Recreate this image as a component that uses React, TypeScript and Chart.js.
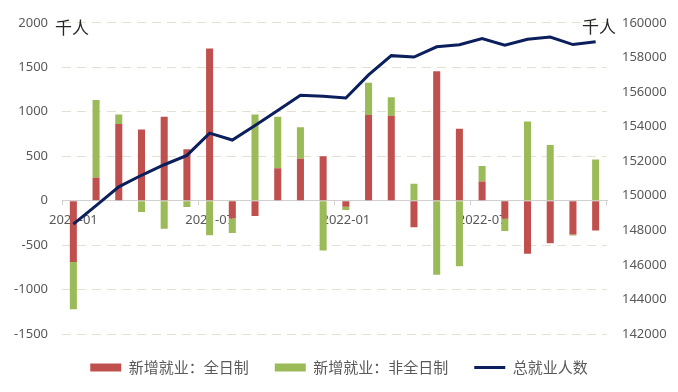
import React, { useEffect, useRef } from 'react';
import { Chart, registerables } from 'chart.js';

Chart.register(...registerables);

const months = [
  '2021-01', '2021-02', '2021-03', '2021-04', '2021-05', '2021-06',
  '2021-07', '2021-08', '2021-09', '2021-10', '2021-11', '2021-12',
  '2022-01', '2022-02', '2022-03', '2022-04', '2022-05', '2022-06',
  '2022-07', '2022-08', '2022-09', '2022-10', '2022-11', '2022-12',
];

const fullTime = [
  -690, 260, 863, 800, 944, 578, 1711, -200, -172, 363, 470, 500,
  -70, 963, 955, -298, 1455, 808, 215, -205, -598, -480, -381, -335,
];

const partTime = [
  -532, 873, 107, -128, -317, -72, -389, -165, 970, 581, 356, -561,
  -34, 363, 208, 189, -835, -737, 174, -137, 889, 626, -10, 463,
];

const totalEmployment = [
  148360, 149430, 150510, 151180, 151790, 152330, 153620, 153220, 154060, 154930, 155810, 155750,
  155650, 156990, 158100, 158020, 158610, 158730, 159090, 158700, 159050, 159180, 158740, 158900,
];

const seriesNames = ['新增就业：全日制', '新增就业：非全日制', '总就业人数'];
const unitLabel = '千人';

const leftMin = -1500;
const leftMax = 2000;
const leftStep = 500;
const rightMin = 142000;
const rightMax = 160000;
const rightStep = 2000;

export default function App() {
  const ref = useRef<HTMLCanvasElement | null>(null);

  useEffect(() => {
    document.body.style.margin = '0';
    if (!ref.current) return;

    const unitPlugin = {
      id: 'unitLabels',
      afterDraw(chart: any) {
        const { ctx, chartArea } = chart;
        ctx.save();
        ctx.font = '17px "Noto Sans CJK SC"';
        ctx.fillStyle = '#262626';
        ctx.textBaseline = 'middle';
        ctx.textAlign = 'left';
        ctx.fillText(unitLabel, chartArea.left - 7, chartArea.top + 5);
        ctx.fillText(unitLabel, chartArea.right - 25, chartArea.top + 4);
        ctx.restore();
      },
    };

    const tickFont = { family: '"Noto Sans", sans-serif', size: 13 };
    const plain = (v: any) => String(v);

    const chart = new Chart(ref.current, {
      type: 'bar',
      data: {
        labels: months,
        datasets: [
          {
            type: 'bar',
            label: seriesNames[0],
            data: fullTime,
            backgroundColor: '#c0504d',
            borderWidth: 0,
            yAxisID: 'y',
            stack: 's',
            order: 1,
            pointStyle: 'rect',
            categoryPercentage: 1,
            barPercentage: 0.31,
          },
          {
            type: 'bar',
            label: seriesNames[1],
            data: partTime,
            backgroundColor: '#9bbb59',
            borderWidth: 0,
            yAxisID: 'y',
            stack: 's',
            order: 1,
            pointStyle: 'rect',
            categoryPercentage: 1,
            barPercentage: 0.31,
          },
          {
            type: 'line',
            label: seriesNames[2],
            data: totalEmployment,
            borderColor: '#0b1f5c',
            backgroundColor: '#0b1f5c',
            borderWidth: 3,
            pointRadius: 0,
            pointStyle: 'line',
            tension: 0,
            yAxisID: 'y1',
            order: 0,
          } as any,
        ],
      },
      options: {
        animation: false,
        responsive: false,
        devicePixelRatio: 1,
        layout: { padding: { top: 19, bottom: 7, left: 0, right: 0 } },
        scales: {
          x: {
            type: 'category',
            stacked: true,
            position: { y: 0 } as any,
            offset: true,
            grid: {
              display: true,
              drawOnChartArea: false,
              drawTicks: true,
              tickLength: 4,
              offset: true,
              color: (ctx: any) =>
                ctx.index === undefined || ctx.index % 6 === 0 ? '#d0d0d0' : 'rgba(0,0,0,0)',
            },
            border: { display: true, color: '#d0d0d0', width: 1 },
            ticks: {
              autoSkip: false,
              maxRotation: 0,
              minRotation: 0,
              padding: 8,
              color: '#595959',
              font: tickFont,
              callback: (_v: any, i: number) => (i % 6 === 0 ? months[i] : ''),
            },
          },
          y: {
            type: 'linear',
            position: 'left',
            stacked: true,
            min: leftMin,
            max: leftMax,
            ticks: { stepSize: leftStep, padding: 14, color: '#595959', font: tickFont, callback: plain },
            grid: {
              drawTicks: false,
              color: (ctx: any) => (ctx.tick && ctx.tick.value === 0 ? 'rgba(0,0,0,0)' : '#e4e0d2'),
              lineWidth: 1,
            },
            border: { display: false, dash: [9, 6] },
            afterFit: (s: any) => {
              s.width = 62;
            },
          },
          y1: {
            type: 'linear',
            position: 'right',
            min: rightMin,
            max: rightMax,
            ticks: { stepSize: rightStep, padding: 15, color: '#595959', font: tickFont, callback: plain },
            grid: { display: false, drawTicks: false },
            border: { display: false },
            afterFit: (s: any) => {
              s.width = 71;
            },
          },
        },
        plugins: {
          tooltip: { enabled: false },
          legend: {
            position: 'bottom',
            labels: {
              usePointStyle: true,
              pointStyleWidth: 31,
              boxHeight: 8,
              padding: 26,
              color: '#595959',
              font: { family: '"Noto Sans CJK SC", sans-serif', size: 15 },
              sort: (a: any, b: any) => a.datasetIndex - b.datasetIndex,
            },
          },
        },
      },
      plugins: [unitPlugin],
    });

    return () => chart.destroy();
  }, []);

  return (
    <div style={{ width: 678, height: 392 }}>
      <canvas ref={ref} width={678} height={392} style={{ display: 'block' }} />
    </div>
  );
}
